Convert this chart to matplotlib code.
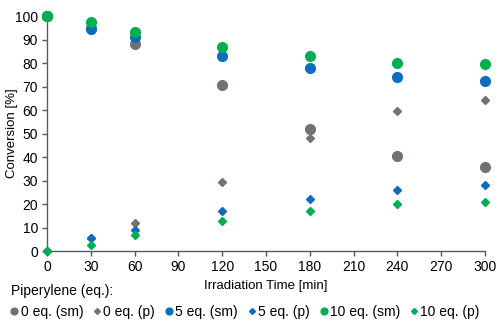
import numpy as np
import matplotlib
matplotlib.use('Agg')
import matplotlib.pyplot as plt

plt.rcParams['font.family'] = ['Liberation Sans', 'DejaVu Sans']

## Dados
tempo = [0, 30, 60, 120, 180, 240, 300]
sm_0 = [100, 95, 88, 70.5, 51.8, 40.6, 35.6]
p_0 = [0, 5.5, 12, 29.5, 48.3, 59.4, 64.3]
sm_5 = [100, 94.5, 91, 83, 78, 74, 72.4]
p_5 = [0, 5.5, 9, 17, 22, 26, 28]
sm_10 = [100, 97.5, 93, 87, 83, 80.2, 79.5]
p_10 = [0, 2.5, 7, 13, 17, 20, 21]

cinza = '#767171'
azul = '#0a6dbf'
verde = '#00b050'

fig = plt.figure(figsize=(5, 3.24), dpi=100)
ax = fig.add_axes([0.094, 0.225, 0.876, 0.7255])

series = [
    (sm_0, 'o', cinza, '0 eq. (sm)'),
    (p_0, 'D', cinza, '0 eq. (p)'),
    (sm_5, 'o', azul, '5 eq. (sm)'),
    (p_5, 'D', azul, '5 eq. (p)'),
    (sm_10, 'o', verde, '10 eq. (sm)'),
    (p_10, 'D', verde, '10 eq. (p)'),
]
for y, m, c, lab in series:
    ms = 7 if m == 'o' else 4.3
    ax.plot(tempo, y, m, color=c, markersize=ms, label=lab, clip_on=False, zorder=3)

ax.set_xlim(0, 300)
ax.set_ylim(0, 100)
ax.set_xticks(np.arange(0, 301, 30))
ax.set_yticks(np.arange(0, 101, 10))
for s in ['top', 'right']:
    ax.spines[s].set_visible(False)
for s in ['left', 'bottom']:
    ax.spines[s].set_color('#595959')
    ax.spines[s].set_linewidth(1.0)
ax.tick_params(colors='#595959', labelcolor='black', labelsize=10, length=3.5, width=1.0, pad=3)
ax.set_xlabel('Irradiation Time [min]', fontsize=9.5, labelpad=4)
ax.set_ylabel('Conversion [%]', fontsize=9.5)
ax.yaxis.set_label_coords(-0.066, 0.5)

leg = fig.legend(loc='lower left', bbox_to_anchor=(0.005, -0.01), ncol=6, frameon=False,
                 title='Piperylene (eq.):', fontsize=10, title_fontsize=10,
                 markerscale=0.7, handlelength=0.5, handletextpad=0.2,
                 columnspacing=0.75, borderaxespad=0.2)
leg._legend_box.align = 'left'

plt.savefig('out.png', dpi=100)
